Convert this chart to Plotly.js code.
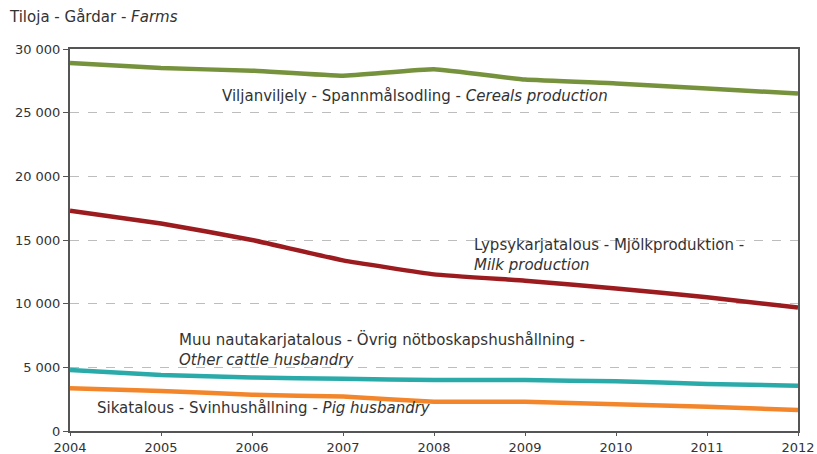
<!DOCTYPE html>
<html>
<head>
<meta charset="utf-8">
<script src="https://cdn.plot.ly/plotly-3.0.1.min.js"></script>
<style>html,body{margin:0;padding:0;background:#fff;}#chart{width:817px;height:454px;}</style>
</head>
<body>
<div id="chart"></div>
<script>
const years = [2004, 2005, 2006, 2007, 2008, 2009, 2010, 2011, 2012];
const cereals = [28900, 28500, 28300, 27900, 28400, 27600, 27300, 26900, 26500];
const milk = [17300, 16300, 15000, 13400, 12300, 11800, 11200, 10500, 9700];
const otherCattle = [4800, 4400, 4200, 4100, 4000, 4000, 3900, 3700, 3550];
const pig = [3350, 3150, 2850, 2700, 2300, 2300, 2100, 1900, 1650];
const yTicks = [0, 5000, 10000, 15000, 20000, 25000, 30000];

const font = "DejaVu Sans, Verdana, sans-serif";
function line(y, color) {
  return {x: years, y: y, type: 'scatter', mode: 'lines',
    line: {color: color, width: 4.5, shape: 'spline', smoothing: 0.3},
    hoverinfo: 'skip', showlegend: false};
}
const data = [
  line(cereals, '#76923C'),
  line(milk, '#9C1B1F'),
  line(otherCattle, '#2BAAAA'),
  line(pig, '#F3862B')
];
const ann = (x, y, text) => ({x: x, y: y, xref: 'x', yref: 'y', text: text, showarrow: false,
  xanchor: 'left', yanchor: 'middle', align: 'left', font: {family: font, size: 15, color: '#333'}});
const layout = {
  width: 817, height: 454,
  margin: {l: 70, r: 19, t: 49, b: 23},
  paper_bgcolor: '#fff', plot_bgcolor: '#fff',
  separators: ', ',
  font: {family: font, size: 13, color: '#333'},
  title: {text: 'Tiloja - Gårdar - <i>Farms</i>', xref: 'container', yref: 'container',
    x: 10/817, xanchor: 'left', y: 1 - 17/454, yanchor: 'middle',
    font: {family: font, size: 15, color: '#333'}},
  xaxis: {range: [2004, 2012], tickvals: years, ticktext: years.map(String),
    showgrid: false, zeroline: false, showline: true, linecolor: '#555', linewidth: 2, mirror: true,
    ticks: 'outside', ticklen: 3, tickcolor: '#555', tickfont: {family: font, size: 13, color: '#333'}},
  yaxis: {range: [0, 30000], tickvals: yTicks, tickformat: ',d',
    showgrid: true, gridcolor: '#bdbdbd', griddash: 'dash', gridwidth: 1, zeroline: false,
    showline: true, linecolor: '#555', linewidth: 2, mirror: true,
    ticks: 'outside', ticklen: 5, tickcolor: '#555', tickfont: {family: font, size: 13, color: '#333'}},
  annotations: [
    ann(2005.65, 26300, 'Viljanviljely - Spannmålsodling - <i>Cereals production</i>'),
    ann(2008.42, 13800, 'Lypsykarjatalous - Mjölkproduktion -<br><i>Milk production</i>'),
    ann(2005.18, 6400, 'Muu nautakarjatalous - Övrig nötboskapshushållning -<br><i>Other cattle husbandry</i>'),
    ann(2004.27, 1800, 'Sikatalous - Svinhushållning - <i>Pig husbandry</i>')
  ]
};
Plotly.newPlot('chart', data, layout, {staticPlot: true, displayModeBar: false});
</script>
</body>
</html>
